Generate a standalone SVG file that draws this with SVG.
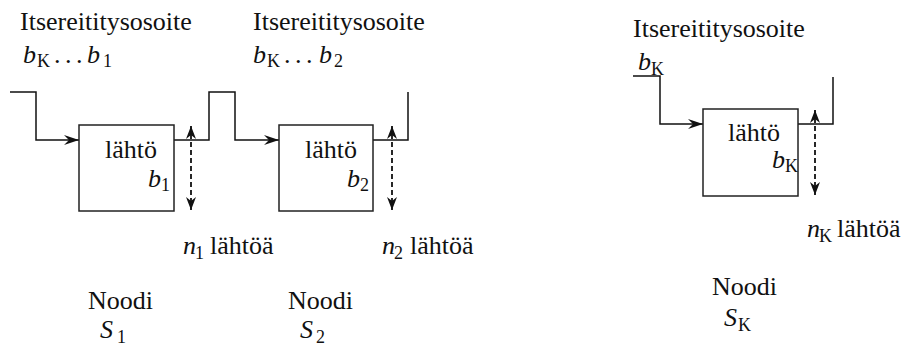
<svg xmlns="http://www.w3.org/2000/svg" width="907" height="352" viewBox="0 0 907 352" font-family="'Liberation Serif', serif">
<defs>
<style>
text{font-family:"Liberation Serif",serif;font-size:26px;fill:#111}
.i{font-style:italic}
.s{font-size:18px}
.box{fill:#fff;stroke:#222;stroke-width:1.5}
.ln{fill:none;stroke:#111;stroke-width:1.5}
.da{fill:none;stroke:#111;stroke-width:1.8;stroke-dasharray:5 3}
</style>
<marker id="ah" markerWidth="16" markerHeight="12" viewBox="-16 -6 16 12" refX="0" refY="0" orient="auto" markerUnits="userSpaceOnUse">
<path d="M0,0 L-15,-5 L-10,0 L-15,5 Z" fill="#111"/>
</marker>
<marker id="dh" markerWidth="14" markerHeight="12" viewBox="-14 -6 14 12" refX="0" refY="0" orient="auto-start-reverse" markerUnits="userSpaceOnUse">
<path d="M0,0 L-13,-5 L-9,0 L-13,5 Z" fill="#111"/>
</marker>
</defs>

<g id="connectors">
<polyline class="ln" points="10,92 36,92 36,140 79,140" marker-end="url(#ah)"/>
<polyline class="ln" points="174,140 209,140 209,92 235,92 235,140 279,140" marker-end="url(#ah)"/>
<polyline class="ln" points="373,140 408,140 408,92"/>
<polyline class="ln" points="633,76 660,76 660,124 703,124" marker-end="url(#ah)"/>
<polyline class="ln" points="798,124 833,124 833,77"/>
<line class="da" x1="191" y1="126" x2="191" y2="210" marker-start="url(#dh)" marker-end="url(#dh)"/>
<line class="da" x1="392" y1="126" x2="392" y2="210" marker-start="url(#dh)" marker-end="url(#dh)"/>
<line class="da" x1="815" y1="110" x2="815" y2="195" marker-start="url(#dh)" marker-end="url(#dh)"/>
</g>

<g id="node-s1">
<text x="20" y="30">Itsereititysosoite</text>
<text y="63"><tspan x="23" class="i">b</tspan><tspan x="37" dy="4" class="s">K</tspan><tspan x="54" dy="-4" letter-spacing="-1">. . .</tspan><tspan x="87" class="i">b</tspan><tspan x="103" dy="4" class="s">1</tspan></text>
<rect class="box" x="79" y="125" width="95" height="86"/>
<text x="105" y="158">lähtö</text>
<text y="187"><tspan x="148" class="i">b</tspan><tspan x="161" dy="4" class="s">1</tspan></text>
<text y="254"><tspan x="183" class="i">n</tspan><tspan x="195" dy="5" class="s">1</tspan><tspan x="210" dy="-5">lähtöä</tspan></text>
<text x="88" y="309">Noodi</text>
<text y="338"><tspan x="100" class="i">S</tspan><tspan x="117" dy="5" class="s">1</tspan></text>
</g>

<g id="node-s2">
<text x="253" y="30">Itsereititysosoite</text>
<text y="63"><tspan x="253" class="i">b</tspan><tspan x="267" dy="4" class="s">K</tspan><tspan x="284" dy="-4" letter-spacing="-1">. . .</tspan><tspan x="319" class="i">b</tspan><tspan x="334" dy="4" class="s">2</tspan></text>
<rect class="box" x="279" y="125" width="94" height="86"/>
<text x="305" y="158">lähtö</text>
<text y="187"><tspan x="347" class="i">b</tspan><tspan x="360" dy="4" class="s">2</tspan></text>
<text y="254"><tspan x="382" class="i">n</tspan><tspan x="394" dy="5" class="s">2</tspan><tspan x="410" dy="-5">lähtöä</tspan></text>
<text x="288" y="309">Noodi</text>
<text y="338"><tspan x="300" class="i">S</tspan><tspan x="316" dy="5" class="s">2</tspan></text>
</g>

<g id="node-sk">
<text x="633" y="37">Itsereititysosoite</text>
<text y="70"><tspan x="638" class="i">b</tspan><tspan x="651" dy="5" class="s">K</tspan></text>
<rect class="box" x="703" y="109" width="95" height="87"/>
<text x="728" y="141">lähtö</text>
<text y="168"><tspan x="772" class="i">b</tspan><tspan x="785" dy="4" class="s">K</tspan></text>
<text y="237"><tspan x="807" class="i">n</tspan><tspan x="819" dy="5" class="s">K</tspan><tspan x="837" dy="-5">lähtöä</tspan></text>
<text x="712" y="295">Noodi</text>
<text y="326"><tspan x="724" class="i">S</tspan><tspan x="738" dy="5" class="s">K</tspan></text>
</g>
</svg>
